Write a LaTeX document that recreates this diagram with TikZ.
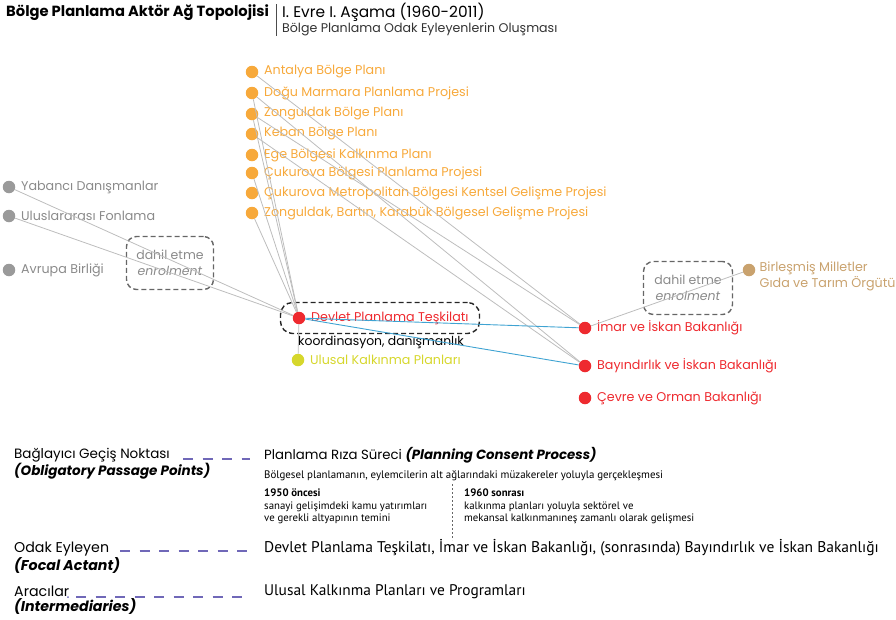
\documentclass[tikz,border=0pt]{standalone}
\usepackage{fontspec}
\setmainfont{Poppins}
\newfontfamily\narrowfont{PT Sans}
\usetikzlibrary{positioning}

\definecolor{planorange}{HTML}{F7A93B}
\definecolor{actorred}{HTML}{EE2A2F}
\definecolor{actorgrey}{HTML}{9A9A9A}
\definecolor{textgrey}{HTML}{8A8A8A}
\definecolor{faotan}{HTML}{C9A26E}
\definecolor{plangreen}{HTML}{D6D72C}
\definecolor{linkgrey}{HTML}{BDBDBD}
\definecolor{linkblue}{HTML}{3FA3D2}
\definecolor{oppurple}{HTML}{7068B8}

\tikzset{
  dot/.style={circle, fill=#1, inner sep=0pt, minimum size=12.5pt},
  lbl/.style={text=#1, anchor=west, inner sep=0pt, font=\fontsize{12.7}{16}\selectfont},
  link/.style={draw=linkgrey, line width=0.8pt},
  coordlink/.style={draw=linkblue, line width=0.9pt},
  enrolbox/.style={draw=#1, dashed, dash pattern=on 5pt off 3pt, rounded corners=10pt,
    line width=1.4pt, align=center, inner sep=0pt},
  legdash/.style={draw=oppurple, line width=1.8pt, dash pattern=on 10pt off 9.5pt},
  legtext/.style={anchor=west, inner sep=0pt, align=left},
  legkey/.style={anchor=north west, inner sep=0pt, align=left, font=\fontsize{13.5}{15}\selectfont},
}

\begin{document}
\begin{tikzpicture}[x=1pt, y=-1pt]
  \useasboundingbox (0,0) rectangle (896,619);

  % title
  \node[legtext, font=\bfseries\fontsize{14.7}{16}\selectfont] (title) at (6,13) {Bölge Planlama Aktör Ağ Topolojisi};
  \coordinate (bar-top) at (276,4);
  \coordinate (bar-bot) at (276,36);
  \draw[black!70, line width=0.6pt] (bar-top) -- (bar-bot);
  \node[legtext, font=\fontsize{15.4}{17}\selectfont] (phase) at (282,12) {I. Evre I. Aşama (1960-2011)};
  \node[legtext, font=\fontsize{12.6}{14}\selectfont, text=black!80] (subtitle) at (282,29) {Bölge Planlama Odak Eyleyenlerin Oluşması};

  % plans
  \node[dot=planorange] (antalya) at (252,72) {};
  \node[dot=planorange] (marmara) at (252,93) {};
  \node[dot=planorange] (zonguldak) at (252,114) {};
  \node[dot=planorange] (keban) at (252,134) {};
  \node[dot=planorange] (ege) at (252,155) {};
  \node[dot=planorange] (cukurova) at (252,173) {};
  \node[dot=planorange] (cukmetro) at (252,193) {};
  \node[dot=planorange] (zbk) at (252,213) {};
  \node[lbl=planorange, right=5.5pt of antalya] (antalya-t) {Antalya Bölge Planı};
  \node[lbl=planorange, right=5.5pt of marmara] (marmara-t) {Doğu Marmara Planlama Projesi};
  \node[lbl=planorange, right=5.5pt of zonguldak] (zonguldak-t) {Zonguldak Bölge Planı};
  \node[lbl=planorange, right=5.5pt of keban] (keban-t) {Keban Bölge Planı};
  \node[lbl=planorange, right=5.5pt of ege] (ege-t) {Ege Bölgesi Kalkınma Planı};
  \node[lbl=planorange, right=5.5pt of cukurova] (cukurova-t) {Çukurova Bölgesi Planlama Projesi};
  \node[lbl=planorange, right=5.5pt of cukmetro] (cukmetro-t) {Çukurova Metropolitan Bölgesi Kentsel Gelişme Projesi};
  \node[lbl=planorange, right=5.5pt of zbk] (zbk-t) {Zonguldak, Bartın, Karabük Bölgesel Gelişme Projesi};

  % foreign actors
  \node[dot=actorgrey] (yabanci) at (9,187) {};
  \node[dot=actorgrey] (fonlama) at (9,216) {};
  \node[dot=actorgrey] (ab) at (9,270) {};
  \node[lbl=textgrey, right=5.5pt of yabanci] (yabanci-t) {Yabancı Danışmanlar};
  \node[lbl=textgrey, right=5.5pt of fonlama] (fonlama-t) {Uluslararası Fonlama};
  \node[lbl=textgrey, right=5.5pt of ab] (ab-t) {Avrupa Birliği};
  \node[enrolbox=black!60, minimum width=87pt, minimum height=53pt, text=textgrey,
    font=\fontsize{12.5}{16}\selectfont] (enrol-left) at (170,263) {dahil etme\\\textit{enrolment}};

  % focal actants
  \node[dot=actorred] (dpt) at (299,318) {};
  \node[lbl=actorred, right=5.5pt of dpt] (dpt-t) {Devlet Planlama Teşkilatı};
  \node[draw=black!85, dashed, dash pattern=on 5pt off 3pt, line width=1.4pt, rounded corners=12pt,
    minimum width=199pt, minimum height=31pt] (dpt-box) at (380,318) {};
  \node[legtext, font=\fontsize{12.4}{14}\selectfont] (koord) at (298,342) {koordinasyon, danışmanlık};
  \node[dot=plangreen] (ulusal) at (298,360) {};
  \node[lbl=plangreen, right=5.5pt of ulusal] (ulusal-t) {Ulusal Kalkınma Planları};

  \node[dot=actorred] (imar) at (585,328) {};
  \node[dot=actorred] (bayindirlik) at (585,366) {};
  \node[dot=actorred] (cevre) at (585,398) {};
  \node[lbl=actorred, right=5.5pt of imar] (imar-t) {İmar ve İskan Bakanlığı};
  \node[lbl=actorred, right=5.5pt of bayindirlik] (bayindirlik-t) {Bayındırlık ve İskan Bakanlığı};
  \node[lbl=actorred, right=5.5pt of cevre] (cevre-t) {Çevre ve Orman Bakanlığı};

  \node[dot=faotan] (fao) at (749,270) {};
  \node[lbl=faotan, anchor=north west, align=left] (fao-t) at ([xshift=4pt, yshift=8pt]fao.east)
    {Birleşmiş Milletler\\Gıda ve Tarım Örgütü};
  \node[enrolbox=black!60, minimum width=89pt, minimum height=53pt, text=textgrey,
    font=\fontsize{12.5}{16}\selectfont] (enrol-right) at (688,288) {dahil etme\\\textit{enrolment}};

  % links
  \draw[link] (antalya) -- (imar);
  \draw[link] (zonguldak) -- (imar);
  \draw[link] (marmara) -- (bayindirlik);
  \draw[link] (keban) -- (bayindirlik);
  \foreach \p in {marmara, zonguldak, cukurova, zbk}
    \draw[link] (\p) -- (dpt);
  \draw[link] (yabanci) -- (dpt);
  \draw[link] (fonlama) -- (dpt);
  \draw[link] (ulusal) -- (dpt);
  \draw[link] (fao) -- (imar);
  \draw[coordlink] (dpt) -- (imar);
  \draw[coordlink] (dpt) -- (bayindirlik);

  % legend
  \node[legkey] (opp) at (14,448)
    {Bağlayıcı Geçiş Noktası\\\textbf{\textit{(Obligatory Passage Points)}}};
  \coordinate (opp-a) at (183,459);
  \coordinate (opp-b) at (250,459);
  \draw[legdash] (opp-a) -- (opp-b);
  \node[legtext, font=\fontsize{13.3}{15}\selectfont] (riza) at (264,455)
    {Planlama Rıza Süreci \textbf{\textit{(Planning Consent Process)}}};
  \node[legtext, font=\narrowfont\fontsize{10.9}{12}\selectfont] (riza-t) at (264,476)
    {Bölgesel planlamanın, eylemcilerin alt ağlarındaki müzakereler yoluyla gerçekleşmesi};
  \node[legtext, anchor=north west, font=\narrowfont\fontsize{10.8}{12.5}\selectfont] (before) at (264,489)
    {\textbf{1950 öncesi}\\sanayi gelişimdeki kamu yatırımları\\ve gerekli altyapının temini};
  \node[legtext, anchor=north west, font=\narrowfont\fontsize{10.8}{12.5}\selectfont] (after) at (464,489)
    {\textbf{1960 sonrası}\\kalkınma planları yoluyla sektörel ve\\mekansal kalkınmanıneş zamanlı olarak gelişmesi};
  \coordinate (split-top) at (452,484);
  \coordinate (split-bot) at (452,540);
  \draw[black!60, line width=0.8pt, dash pattern=on 2pt off 2pt] (split-top) -- (split-bot);

  \node[legkey, font=\fontsize{14.2}{15}\selectfont] (focal) at (14,542)
    {Odak Eyleyen\\\textbf{\textit{(Focal Actant)}}};
  \coordinate (focal-a) at (120,551);
  \coordinate (focal-b) at (250,551);
  \draw[legdash] (focal-a) -- (focal-b);
  \node[legtext, font=\narrowfont\fontsize{15.5}{17}\selectfont] (focal-t) at (264,548)
    {Devlet Planlama Teşkilatı, İmar ve İskan Bakanlığı, (sonrasında) Bayındırlık ve İskan Bakanlığı};

  \node[legkey, font=\fontsize{14.2}{15}\selectfont] (inter) at (14,586)
    {Aracılar\\\textbf{\textit{(Intermediaries)}}};
  \coordinate (inter-dot) at (68,597);
  \coordinate (inter-a) at (76,597);
  \coordinate (inter-b) at (250,597);
  \fill[oppurple] (inter-dot) circle (1pt);
  \draw[legdash] (inter-a) -- (inter-b);
  \node[legtext, font=\narrowfont\fontsize{15.4}{17}\selectfont] (inter-t) at (264,592)
    {Ulusal Kalkınma Planları ve Programları};
\end{tikzpicture}
\end{document}
